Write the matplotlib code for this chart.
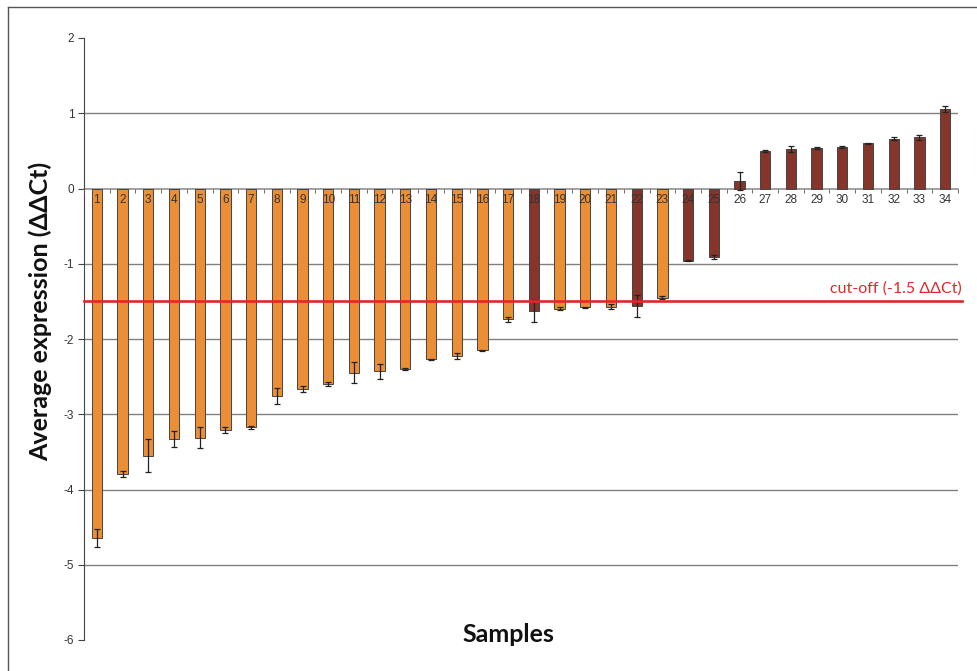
import matplotlib
matplotlib.use('Agg')
import numpy as np
import matplotlib.pyplot as plt
from matplotlib.lines import Line2D

# ---- data ----
samples = [str(i) for i in range(1, 35)]
ddct = [-4.64, -3.79, -3.55, -3.33, -3.31, -3.21, -3.17, -2.76, -2.66, -2.60,
        -2.45, -2.43, -2.40, -2.27, -2.22, -2.15, -1.74, -1.63, -1.60, -1.58,
        -1.57, -1.56, -1.45, -0.96, -0.91, 0.10, 0.50, 0.53, 0.54, 0.55,
        0.60, 0.66, 0.68, 1.06]
err = [0.12, 0.04, 0.22, 0.11, 0.14, 0.04, 0.02, 0.11, 0.04, 0.03,
       0.14, 0.10, 0.01, 0.01, 0.04, 0.01, 0.03, 0.15, 0.02, 0.01,
       0.03, 0.15, 0.02, 0.01, 0.03, 0.12, 0.01, 0.04, 0.01, 0.01,
       0.005, 0.02, 0.03, 0.04]
# 'o' = orange group, 'b' = brown group
group = ['o'] * 17 + ['b'] + ['o'] * 3 + ['b'] + ['o'] + ['b'] * 11
cutoff = -1.5

ORANGE = '#EA8F35'
BROWN = '#86352A'
RED = '#E0282C'

fig = plt.figure(figsize=(9.77, 6.71), dpi=100, facecolor='w')
ax = fig.add_axes([84 / 977, 31 / 671, 874 / 977, 602 / 671])

x = np.arange(len(samples))
colors = [ORANGE if g == 'o' else BROWN for g in group]
ax.bar(x, ddct, width=0.4, color=colors, edgecolor='#444444', linewidth=0.7,
       yerr=err, capsize=2.5, zorder=3,
       error_kw=dict(ecolor='#222222', elinewidth=0.9, capthick=0.9, zorder=4))

ax.set_xlim(-0.5, len(samples) - 0.5)
ax.set_ylim(-6, 2)
ax.set_yticks(range(-6, 3))
ax.set_yticklabels([str(v) for v in range(-6, 3)], fontsize=8.5,
                   family='Liberation Sans', color='#333333')

# horizontal grid, not on 2, 0, -6
ax.yaxis.grid(True, color='#808080', linewidth=1.0)
ax.yaxis.set_zorder(0.5)
for gl, v in zip(ax.get_ygridlines(), range(-6, 3)):
    if v in (-6, 0, 2):
        gl.set_visible(False)

# x axis sits on zero, labels drawn over the bars
for s in ('top', 'right'):
    ax.spines[s].set_visible(False)
ax.spines['left'].set_color('#444444')
ax.spines['bottom'].set_position(('data', 0))
ax.spines['bottom'].set_color('#909090')
ax.spines['bottom'].set_linewidth(1.2)
ax.spines['bottom'].set_zorder(2)
ax.set_xticks(x)
ax.set_xticklabels(samples, fontsize=8.5, family='Liberation Sans', color='#333333')
ax.set_xticks(np.arange(-0.5, len(samples)), minor=True)
ax.tick_params(axis='x', which='major', length=0, pad=4)
ax.tick_params(axis='x', which='minor', length=3, direction='out', color='#555555')
ax.tick_params(axis='y', length=4, color='#444444', pad=3)
ax.xaxis.set_zorder(5)

# cut-off line
ax.plot([-0.5, 33.65], [cutoff, cutoff], color=RED, linewidth=1.9,
        zorder=5, clip_on=False)
ax.text(33.65, cutoff + 0.07, 'cut-off (-1.5 \u0394\u0394Ct)', color=RED,
        fontsize=11.5, family=['Lato', 'DejaVu Sans'], ha='right', va='bottom')

ax.set_ylabel('Average expression (\u0394\u0394Ct)', fontsize=18, fontweight='bold',
              family=['Lato', 'DejaVu Sans'], color='#111111')
ax.yaxis.set_label_coords(-0.037, 0.545)
fig.text(508 / 977, 1 - 634 / 671, 'Samples', fontsize=18, fontweight='bold',
         family=['Lato', 'DejaVu Sans'], color='#111111', ha='center', va='center')

# outer frame (top and left edges visible)
fig.add_artist(Line2D([8 / 977, 1], [1 - 7 / 671, 1 - 7 / 671],
                      transform=fig.transFigure, color='#555555', linewidth=1))
fig.add_artist(Line2D([8 / 977, 8 / 977], [0, 1 - 7 / 671],
                      transform=fig.transFigure, color='#555555', linewidth=1))

fig.savefig('out.png', dpi=100, facecolor='w')
